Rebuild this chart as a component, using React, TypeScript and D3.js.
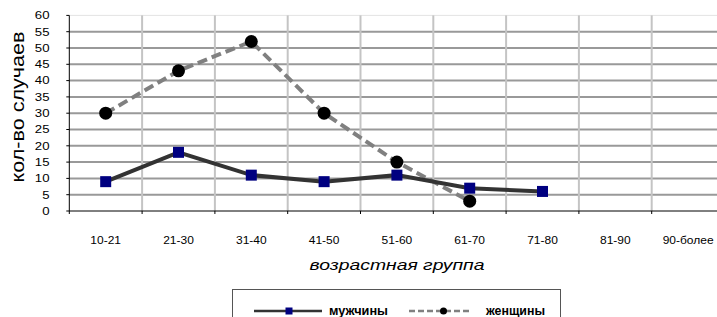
import React from "react";
import * as d3 from "d3";

const categories = ["10-21", "21-30", "31-40", "41-50", "51-60", "61-70", "71-80", "81-90", "90-более"];
const menValues = [9, 18, 11, 9, 11, 7, 6];
const womenValues = [30, 43, 52, 30, 15, 3];
const yTicks = [0, 5, 10, 15, 20, 25, 30, 35, 40, 45, 50, 55, 60];
const seriesNames = ["мужчины", "женщины"];

const W = 717, H = 317;
const left = 69.3, right = 724.5, top = 15.4, bottom = 211;

export default function App() {
  const x = d3.scaleBand<string>().domain(categories).range([left, right]);
  const y = d3.scaleLinear().domain([0, 60]).range([bottom, top]);
  const cx = (i: number) => (x(categories[i]) as number) + x.bandwidth() / 2;
  const line = d3.line<number>().x((_, i) => cx(i)).y((d) => y(d));
  const font = "Arial, 'Liberation Sans', sans-serif";
  const boundaries = d3.range(categories.length + 1).map((i) => left + i * x.bandwidth());

  return (
    <svg width={W} height={H} style={{ position: "absolute", left: 0, top: 0, background: "#fff" }} fontFamily={font}>
      {/* horizontal gridlines */}
      {yTicks.filter((t) => t > 0).map((t) => (
        <line key={"h" + t} x1={left} x2={W} y1={y(t)} y2={y(t)}
          stroke={t === 60 ? "#e4e4e4" : "#999"} strokeWidth={t === 60 ? 1 : 2} />
      ))}
      {/* vertical gridlines */}
      {boundaries.slice(1).map((b, i) => (
        <line key={"v" + i} x1={b} x2={b} y1={y(60)} y2={bottom} stroke="#c4c4c4" strokeWidth={2} />
      ))}
      {/* axes */}
      <line x1={left} x2={W} y1={bottom} y2={bottom} stroke="#000" strokeWidth={1} />
      <line x1={left} x2={left} y1={top} y2={bottom} stroke="#000" strokeWidth={1} />
      {boundaries.map((b, i) => (
        <line key={"xt" + i} x1={b} x2={b} y1={bottom} y2={bottom + 3} stroke="#000" strokeWidth={1} />
      ))}
      {yTicks.map((t) => (
        <g key={"yt" + t}>
          <line x1={left - 3} x2={left} y1={y(t)} y2={y(t)} stroke="#000" strokeWidth={1} />
          <text transform={`translate(49.5,${y(t)}) scale(1.2,1)`} dy="0.35em" textAnchor="end" fontSize={11} fill="#000">{t}</text>
        </g>
      ))}
      {categories.map((c, i) => (
        <text key={"xl" + c} transform={`translate(${cx(i)},244) scale(1.2,1)`} textAnchor="middle" fontSize={10} fill="#000">{c}</text>
      ))}
      <text transform={`translate(24,107) rotate(-90)`} textAnchor="middle" fontSize={18} fill="#000"
        textLength={151} lengthAdjust="spacingAndGlyphs">кол-во случаев</text>
      <text x={397} y={270} textAnchor="middle" fontSize={15} fontStyle="italic" fill="#000"
        textLength={175} lengthAdjust="spacingAndGlyphs">возрастная группа</text>

      {/* women */}
      <path d={line(womenValues) as string} fill="none" stroke="#808080" strokeWidth={4} strokeDasharray="10,5" />
      {womenValues.map((v, i) => (
        <circle key={"w" + i} cx={cx(i)} cy={y(v)} r={6.5} fill="#000" />
      ))}
      {/* men */}
      <path d={line(menValues) as string} fill="none" stroke="#333" strokeWidth={4} />
      {menValues.map((v, i) => (
        <rect key={"m" + i} x={cx(i) - 5.5} y={y(v) - 5.5} width={11} height={11} fill="#000080" />
      ))}

      {/* legend */}
      <rect x={232.5} y={289.5} width={328} height={40} fill="#fff" stroke="#555" strokeWidth={1} />
      <line x1={254} x2={322} y1={311} y2={311} stroke="#333" strokeWidth={2.5} />
      <rect x={285.5} y={307.5} width={7} height={7} fill="#000080" />
      <text x={329} y={314.5} fontSize={12} fontWeight="bold" fill="#000"
        textLength={59} lengthAdjust="spacingAndGlyphs">{seriesNames[0]}</text>
      <line x1={409} x2={471} y1={311} y2={311} stroke="#808080" strokeWidth={2.5} strokeDasharray="6,3" />
      <circle cx={443.5} cy={311} r={3.5} fill="#000" />
      <text x={486} y={314.5} fontSize={12} fontWeight="bold" fill="#000"
        textLength={59} lengthAdjust="spacingAndGlyphs">{seriesNames[1]}</text>
    </svg>
  );
}
